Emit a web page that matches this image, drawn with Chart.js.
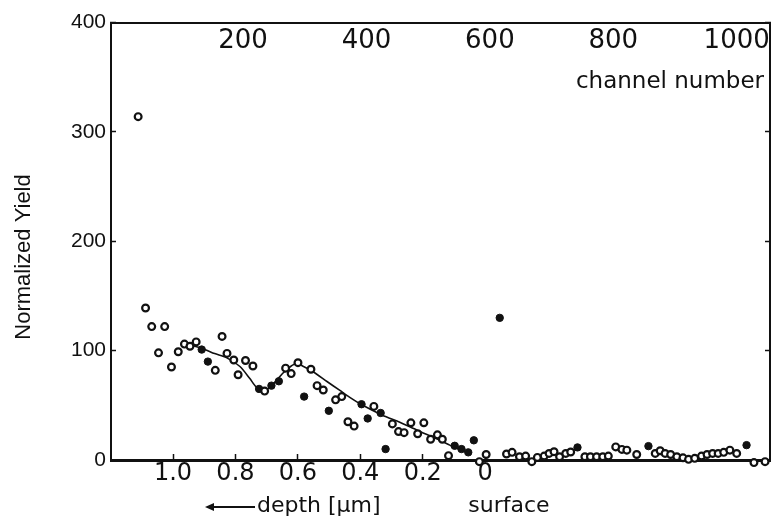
<!DOCTYPE html>
<html>
<head>
<meta charset="utf-8">
<script src="https://cdn.jsdelivr.net/npm/chart.js@4"></script>
<style>
  html, body { margin: 0; padding: 0; background: #fff; }
  #spectre { display: block; }
</style>
</head>
<body>
<canvas id="spectre" width="784" height="521"></canvas>
<script>
//------------------------------------- Axes -------------------------------------
const channelTicks = [200, 400, 600, 800, 1000];
const depthTicks = [1.0, 0.8, 0.6, 0.4, 0.2, 0];
const yieldTicks = [0, 100, 200, 300, 400];

// calibration canal <-> profondeur (surface vers le canal 592)
const surfaceChannel = 592.4;
const channelsPerMicron = 505.9;
const channelMin = -14;
const channelMax = 1054;

//------------------------------------- Données -------------------------------------
// cercles ouverts
const openChannel = [30, 42, 52, 73, 63, 84, 95, 105, 114, 124, 166, 155, 174, 185, 192, 204, 216, 235,
  269, 278, 289, 310, 320, 330, 350, 360, 370, 380, 412, 442, 452, 461, 472, 483, 493, 504, 515, 523,
  533, 583, 594, 627, 636, 648, 658, 668, 677, 688, 696, 704, 713, 723, 731, 754, 763, 773, 783, 792,
  804, 814, 822, 838, 868, 876, 884, 893, 903, 913, 922, 932, 943, 952, 961, 970, 979, 989, 1000,
  1028, 1046];
const openYield = [314, 139, 122, 122, 98, 85, 99, 106, 104, 108, 113, 82, 97.5, 91.5, 78, 91, 86, 63,
  84, 79, 89, 83, 68, 64, 55, 58, 35, 31, 49, 33, 26, 25, 34, 24, 34, 19, 23, 19,
  4, -1.5, 5, 5.5, 7, 3, 3.6, -1.5, 2.4, 3.6, 6, 7.6, 3, 6, 7.3, 3, 3, 3, 3, 3.6,
  12, 9.7, 9, 5, 6, 8.5, 6, 5, 3, 2, 0.6, 1.5, 3.6, 5, 6, 6, 7, 9, 6,
  -2.4, -1.5];

// points pleins
const fullChannel = [133, 143, 226, 246, 258, 299, 339, 392, 402, 423, 431, 543, 554, 565, 574, 616, 742, 857, 1016];
const fullYield = [101, 90, 65, 68, 72, 58, 45, 51, 38, 43, 10, 13, 10, 7, 18, 130, 11.5, 12.7, 13.6];

// courbe lissée
const fitChannel = [113, 135, 154, 173, 195, 211, 222, 238, 251, 264, 277, 287, 298, 313, 336, 357,
  373, 394, 426, 454, 482, 519, 535, 564];
const fitYield = [105.5, 101.8, 97.3, 93.6, 85.5, 74.5, 66.4, 64.5, 70.9, 79.1, 85.5, 88.2, 85.5, 80.9,
  71.8, 63.6, 57.3, 50, 40.9, 34.5, 27.3, 18.2, 13.6, 6.4];

function toPoints(xs, ys) {
  return xs.map((x, i) => ({ x: x, y: ys[i] }));
}

function fixedTicks(values) {
  return scale => { scale.ticks = values.map(v => ({ value: v })); };
}

//------------------------------------- Textes libres -------------------------------------
const annotations = {
  id: 'annotations',
  afterDraw(chart) {
    const ctx = chart.ctx;
    ctx.save();
    ctx.fillStyle = '#111';
    ctx.strokeStyle = '#111';

    // titre vertical
    ctx.save();
    ctx.translate(24, 257);
    ctx.rotate(-Math.PI / 2);
    ctx.font = '22px "Liberation Sans", Arial, sans-serif';
    ctx.textAlign = 'center';
    ctx.textBaseline = 'middle';
    ctx.fillText('Normalized Yield', 0, 0);
    ctx.restore();

    ctx.font = '23px "DejaVu Sans", sans-serif';
    ctx.textBaseline = 'middle';
    ctx.textAlign = 'right';
    ctx.fillText('channel number', 764, 82);

    // flèche de profondeur
    ctx.lineWidth = 2;
    ctx.beginPath();
    ctx.moveTo(212, 507);
    ctx.lineTo(255, 507);
    ctx.stroke();
    ctx.beginPath();
    ctx.moveTo(205, 507);
    ctx.lineTo(214, 503);
    ctx.lineTo(214, 511);
    ctx.closePath();
    ctx.fill();

    ctx.font = '22px "DejaVu Sans", sans-serif';
    ctx.textAlign = 'left';
    ctx.fillText('depth [\u03bcm]', 257, 506);
    ctx.textAlign = 'center';
    ctx.fillText('surface', 509, 506);
    ctx.restore();
  }
};

//------------------------------------- Graphique -------------------------------------
const ctx = document.getElementById('spectre').getContext('2d');
new Chart(ctx, {
  type: 'scatter',
  data: {
    datasets: [
      {
        label: 'open',
        data: toPoints(openChannel, openYield),
        xAxisID: 'x', yAxisID: 'y',
        pointStyle: 'circle',
        pointRadius: 3.4,
        pointBorderWidth: 2.2,
        pointBackgroundColor: '#fff',
        pointBorderColor: '#111',
        clip: false
      },
      {
        label: 'full',
        data: toPoints(fullChannel, fullYield),
        xAxisID: 'x', yAxisID: 'y',
        pointStyle: 'circle',
        pointRadius: 3.7,
        pointBorderWidth: 1,
        pointBackgroundColor: '#111',
        pointBorderColor: '#111',
        clip: false
      },
      {
        label: 'fit',
        data: toPoints(fitChannel, fitYield),
        xAxisID: 'x', yAxisID: 'y',
        showLine: true,
        pointRadius: 0,
        borderColor: '#111',
        borderWidth: 1.6,
        tension: 0.25
      }
    ]
  },
  options: {
    responsive: false,
    animation: false,
    devicePixelRatio: 1,
    layout: { padding: 0 },
    plugins: {
      legend: { display: false },
      tooltip: { enabled: false }
    },
    scales: {
      x: {
        type: 'linear',
        position: 'top',
        min: channelMin,
        max: channelMax,
        afterBuildTicks: fixedTicks(channelTicks),
        afterFit: s => { s.height = 21; },
        border: { display: true, color: '#111', width: 2 },
        grid: { drawOnChartArea: false, drawTicks: false },
        ticks: {
          autoSkip: false,
          maxRotation: 0,
          mirror: true,
          padding: 3,
          color: '#111',
          font: { family: '"DejaVu Sans", sans-serif', size: 26 },
          callback: v => String(v)
        }
      },
      xDepth: {
        type: 'linear',
        position: 'bottom',
        reverse: true,
        min: (surfaceChannel - channelMax) / channelsPerMicron,
        max: (surfaceChannel - channelMin) / channelsPerMicron,
        afterBuildTicks: fixedTicks(depthTicks),
        afterFit: s => { s.height = 61; },
        border: { display: true, color: '#111', width: 3 },
        grid: { drawOnChartArea: false, drawTicks: true, tickLength: -6, tickWidth: 1.5, tickColor: '#111' },
        ticks: {
          autoSkip: false,
          maxRotation: 0,
          padding: 5,
          color: '#111',
          font: { family: '"DejaVu Sans", sans-serif', size: 24 },
          callback: v => (v === 0 ? '0' : v.toFixed(1))
        }
      },
      y: {
        type: 'linear',
        position: 'left',
        min: 0,
        max: 400,
        afterBuildTicks: fixedTicks(yieldTicks),
        afterFit: s => { s.width = 111; },
        border: { display: true, color: '#111', width: 2 },
        grid: { drawOnChartArea: false, drawTicks: true, tickLength: -5, tickWidth: 1.5, tickColor: '#111' },
        ticks: {
          padding: 10,
          color: '#111',
          font: { family: '"Liberation Sans", Arial, sans-serif', size: 21 }
        }
      },
      y2: {
        type: 'linear',
        position: 'right',
        min: 0,
        max: 400,
        afterBuildTicks: fixedTicks(yieldTicks),
        afterFit: s => { s.width = 14; },
        border: { display: true, color: '#111', width: 2 },
        grid: { drawOnChartArea: false, drawTicks: true, tickLength: -5, tickWidth: 1.5, tickColor: '#111' },
        ticks: { display: false }
      }
    }
  },
  plugins: [annotations]
});
</script>
</body>
</html>
